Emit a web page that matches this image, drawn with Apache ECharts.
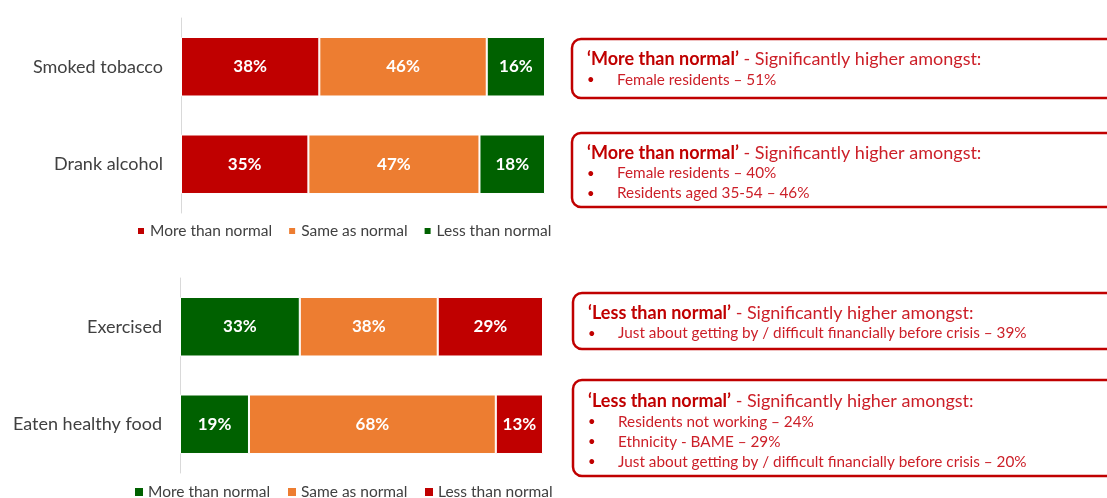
<!DOCTYPE html>
<html>
<head>
<meta charset="utf-8">
<script src="https://cdn.jsdelivr.net/npm/echarts@6/dist/echarts.min.js"></script>
<style>
html,body{margin:0;padding:0;background:#fff;}
#chart{width:1107px;height:498px;}
</style>
</head>
<body>
<div id="chart"></div>
<script>
// ---- Data ----
const topCategories = ['Smoked tobacco', 'Drank alcohol'];
const topMore = [38, 35];
const topSame = [46, 47];
const topLess = [16, 18];

const bottomCategories = ['Exercised', 'Eaten healthy food'];
const bottomMore = [33, 19];
const bottomSame = [38, 68];
const bottomLess = [29, 13];

const seriesNames = ['More than normal', 'Same as normal', 'Less than normal'];

const box1Head = ['‘More than normal’', ' - Significantly higher amongst:'];
const box1Items = ['Female residents – 51%'];
const box2Head = ['‘More than normal’', ' - Significantly higher amongst:'];
const box2Items = ['Female residents – 40%', 'Residents aged 35-54 – 46%'];
const box3Head = ['‘Less than normal’', ' - Significantly higher amongst:'];
const box3Items = ['Just about getting by / difficult financially before crisis – 39%'];
const box4Head = ['‘Less than normal’', ' - Significantly higher amongst:'];
const box4Items = ['Residents not working – 24%', 'Ethnicity - BAME – 29%', 'Just about getting by / difficult financially before crisis – 20%'];

// ---- Styles ----
const RED = '#C00000', ORANGE = '#ED7D31', GREEN = '#006100';
const TXTRED = '#CC1F28';
const FONT = 'Lato, "Open Sans", sans-serif';

function barSeries(name, data, color, gridIdx) {
  return {
    name: name, type: 'bar', stack: 's' + gridIdx, data: data,
    xAxisIndex: gridIdx, yAxisIndex: gridIdx,
    barWidth: '61%',
    itemStyle: { color: color, borderColor: '#fff', borderWidth: 1 },
    label: { show: true, position: 'inside', formatter: '{c}%', color: '#fff',
      fontWeight: 'bold', fontSize: 17, fontFamily: FONT }
  };
}

function box(x, y, h, head, items, hOff) {
  const els = [{
    type: 'rect', shape: { x: x, y: y, width: 600, height: h, r: 9 },
    style: { fill: '#fff', stroke: RED, lineWidth: 2.5 }
  }, {
    type: 'text', x: x + 15, y: y + hOff,
    style: {
      text: '{b|' + head[0] + '}{n|' + head[1] + '}',
      verticalAlign: 'middle', textVerticalAlign: 'middle',
      rich: {
        b: { fontFamily: FONT, fontSize: 18, fontWeight: 'bold', fill: RED, color: RED },
        n: { fontFamily: FONT, fontSize: 18, fill: TXTRED, color: TXTRED }
      }
    }
  }];
  items.forEach(function (t, i) {
    const yy = y + hOff + 20.5 + i * 20;
    els.push({ type: 'text', x: x + 15, y: yy,
      style: { text: '•', font: '13px ' + FONT, fill: RED, textVerticalAlign: 'middle', verticalAlign: 'middle' } });
    els.push({ type: 'text', x: x + 45, y: yy,
      style: { text: t, font: '15.3px ' + FONT, fill: TXTRED, textVerticalAlign: 'middle', verticalAlign: 'middle' } });
  });
  return els;
}

const chart = echarts.init(document.getElementById('chart'), null, { renderer: 'canvas' });

const yAxisCommon = {
  type: 'category', inverse: true,
  axisLine: { show: true, lineStyle: { color: '#D9D9D9', width: 1 } },
  axisTick: { show: false },
  axisLabel: { color: '#404040', fontSize: 18, fontFamily: FONT, margin: 18 }
};
const xAxisCommon = { type: 'value', min: 0, max: 100, show: false };

chart.setOption({
  animation: false,
  grid: [
    { left: 181, width: 364, top: 18, height: 195 },
    { left: 180, width: 363, top: 278, height: 195 }
  ],
  xAxis: [Object.assign({ gridIndex: 0 }, xAxisCommon), Object.assign({ gridIndex: 1 }, xAxisCommon)],
  yAxis: [
    Object.assign({ gridIndex: 0, data: topCategories }, yAxisCommon),
    Object.assign({ gridIndex: 1, data: bottomCategories }, yAxisCommon)
  ],
  legend: [{
    data: seriesNames.map(function (n) { return { name: n }; }),
    left: 131, top: 218, icon: 'rect', itemWidth: 8, itemHeight: 8, itemGap: 15,
    textStyle: { color: '#404040', fontSize: 15.5, fontFamily: FONT },
    selectedMode: false
  }],
  series: [
    barSeries(seriesNames[0], topMore, RED, 0),
    barSeries(seriesNames[1], topSame, ORANGE, 0),
    barSeries(seriesNames[2], topLess, GREEN, 0),
    barSeries(seriesNames[0], bottomMore, GREEN, 1),
    barSeries(seriesNames[1], bottomSame, ORANGE, 1),
    barSeries(seriesNames[2], bottomLess, RED, 1)
  ],
  graphic: [].concat(
    box(572, 39, 59, box1Head, box1Items, 20.5),
    box(572, 133, 74, box2Head, box2Items, 20),
    box(573, 293, 56, box3Head, box3Items, 20),
    box(573, 380, 96, box4Head, box4Items, 21.5),
    // bottom legend (series names reused, colours as in second chart)
    (function () {
      const cols = [GREEN, ORANGE, RED];
      const xs = [135, 288, 425];
      const out = [];
      seriesNames.forEach(function (n, i) {
        out.push({ type: 'rect', shape: { x: xs[i], y: 488, width: 8, height: 8 }, style: { fill: cols[i] } });
        out.push({ type: 'text', x: xs[i] + 13, y: 492, style: { text: n, font: '15.5px ' + FONT, fill: '#404040', textVerticalAlign: 'middle', verticalAlign: 'middle' } });
      });
      return out;
    })()
  )
});
</script>
</body>
</html>
